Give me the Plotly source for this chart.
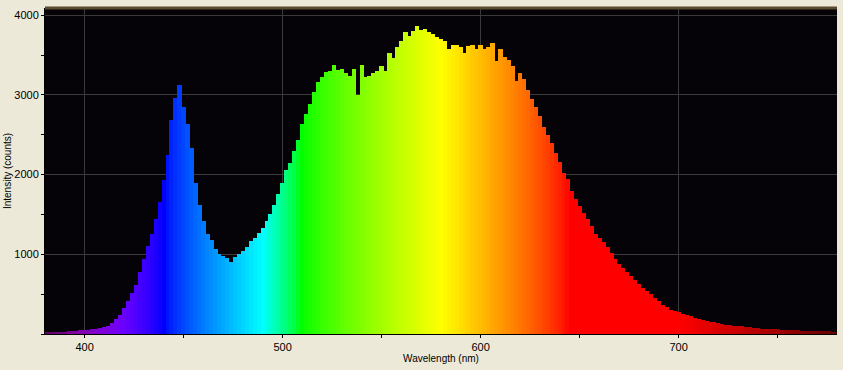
import plotly.graph_objects as go

# Wavelength samples (nm) and intensity (counts)
wavelength = list(range(380, 782, 2))
intensity = [
    20, 22, 25, 25, 28, 30, 32, 35, 40, 45,            # 380-398
    50, 55, 60, 68, 77, 90, 105, 140, 185, 236,        # 400-418
    330, 420, 520, 610, 775, 940, 1100, 1260, 1440, 1660,  # 420-438
    1935, 2250, 2680, 2960, 3120, 2850, 2640, 2330, 1900, 1620,  # 440-458
    1420, 1260, 1180, 1070, 1000, 975, 955, 900, 960, 1000,  # 460-478
    1045, 1095, 1170, 1210, 1265, 1330, 1420, 1510, 1620, 1760,  # 480-498
    1890, 2060, 2150, 2290, 2440, 2630, 2760, 2880, 3040, 3160,  # 500-518
    3230, 3290, 3300, 3380, 3310, 3330, 3280, 3240, 3320, 3000,  # 520-538
    3370, 3220, 3240, 3280, 3300, 3360, 3300, 3520, 3460, 3600,  # 540-558
    3680, 3790, 3740, 3800, 3860, 3820, 3830, 3790, 3760, 3730,  # 560-578
    3700, 3680, 3580, 3620, 3620, 3600, 3520, 3610, 3620, 3580,  # 580-598
    3620, 3580, 3600, 3650, 3430, 3580, 3480, 3440, 3360, 3170,  # 600-618
    3280, 3200, 3060, 2950, 2850, 2740, 2600, 2500, 2400, 2270,  # 620-638
    2160, 2020, 1940, 1800, 1700, 1610, 1520, 1440, 1350, 1260,  # 640-658
    1200, 1160, 1090, 1020, 940, 880, 830, 780, 730, 680,  # 660-678
    630, 580, 540, 500, 455, 410, 370, 340, 305, 285,      # 680-698
    270, 250, 236, 220, 205, 188, 175, 163, 152, 145,      # 700-718
    135, 128, 118, 111, 105, 100, 95, 88, 82, 76,          # 720-738
    71, 67, 63, 60, 58, 57, 55, 51, 48, 46,                # 740-758
    44, 43, 41, 39, 37, 36, 35, 33, 32, 31,                # 760-778
    30,                                                    # 780
]

x_ticks = [400, 500, 600, 700]
y_ticks = [1000, 2000, 3000, 4000]


def wl_color(wl):
    if wl < 440:
        r, g, b = -(wl - 440) / 60.0, 0.0, 1.0
    elif wl < 490:
        r, g, b = 0.0, (wl - 440) / 50.0, 1.0
    elif wl < 510:
        r, g, b = 0.0, 1.0, -(wl - 510) / 20.0
    elif wl < 580:
        r, g, b = (wl - 510) / 70.0, 1.0, 0.0
    elif wl < 645:
        r, g, b = 1.0, -(wl - 645) / 65.0, 0.0
    else:
        r, g, b = 1.0, 0.0, 0.0
    if wl < 420:
        f = 0.3 + 0.7 * (wl - 380) / 40.0
    elif wl <= 700:
        f = 1.0
    else:
        f = 0.3 + 0.7 * (780 - wl) / 80.0
    def c(v):
        return int(round(255 * (v * f) ** 0.8)) if v > 0 else 0
    return f"rgb({c(r)},{c(g)},{c(b)})"


colors = [wl_color(w) for w in wavelength]

fig = go.Figure(go.Bar(
    x=wavelength, y=intensity,
    marker=dict(color=colors, line=dict(width=0)),
    width=2.25,
))

font = "Liberation Sans, Arial, sans-serif"
fig.update_layout(
    width=843, height=370,
    margin=dict(l=45, r=6, t=8, b=36, autoexpand=False),
    paper_bgcolor="#ECE9D8",
    plot_bgcolor="#050308",
    bargap=0,
    showlegend=False,
    font=dict(family=font, size=11, color="#000000"),
    xaxis=dict(
        range=[380, 780], tickvals=x_ticks, ticks="outside", ticklen=3,
        tickcolor="#000000", showgrid=True, gridcolor="#3a3a3a", gridwidth=1,
        showline=True, linecolor="#000000", linewidth=1, automargin=False,
        zeroline=False, tickfont=dict(size=11),
        minor=dict(dtick=50, tick0=0, ticks="outside", ticklen=3,
                   tickcolor="#000000", showgrid=False),
        title=dict(text="Wavelength (nm)", font=dict(size=10), standoff=2),
    ),
    yaxis=dict(
        range=[0, 4090], tickvals=y_ticks, ticks="outside", ticklen=3,
        tickcolor="#000000", showgrid=True, gridcolor="#3a3a3a", gridwidth=1,
        showline=True, linecolor="#000000", linewidth=1, automargin=False,
        zeroline=False, tickfont=dict(size=11),
        minor=dict(dtick=500, tick0=0, ticks="outside", ticklen=3,
                   tickcolor="#000000", showgrid=False),
        title=dict(text="Intensity (counts)", font=dict(size=10), standoff=0),
    ),
    shapes=[dict(type="line", xref="paper", yref="paper", x0=0, x1=1,
                 y0=1, y1=1, line=dict(color="#5a4a30", width=3))],
)

fig.write_html(
    "out.html",
    config={"displayModeBar": False},
    post_script="document.body.style.margin='0';document.body.style.padding='0';"
                "document.body.style.overflow='hidden';"
                "document.body.style.background='#ECE9D8';",
)
